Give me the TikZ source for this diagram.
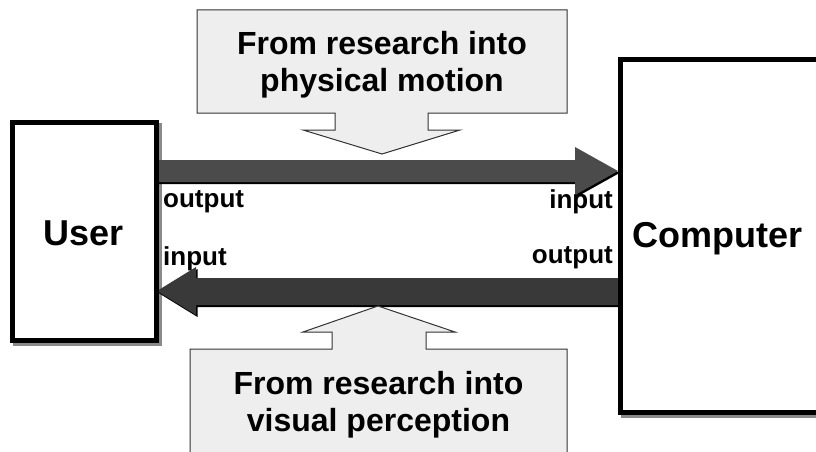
\documentclass[tikz,border=0pt]{standalone}
\usepackage{fontspec}
\setmainfont{Liberation Sans}
\definecolor{calloutfill}{HTML}{EEEEEE}
\definecolor{calloutline}{HTML}{333333}
\definecolor{arrowtop}{HTML}{4B4B4B}
\definecolor{arrowbot}{HTML}{393939}
\definecolor{shadowgray}{HTML}{8A8A8A}
\begin{document}
\begin{tikzpicture}[x=1pt,y=-1pt,
  mainbox/.style={draw=black,line width=5pt,fill=white,inner sep=0pt},
  boxshadow/.style={draw=shadowgray,line width=5pt},
  callout/.style={fill=calloutfill,draw=calloutline,line width=1pt,line join=miter},
  bigtext/.style={font=\bfseries\fontsize{36}{40}\selectfont,inner sep=0pt},
  calltext/.style={font=\bfseries\fontsize{32}{37}\selectfont,align=center,inner sep=0pt},
  lbl/.style={font=\bfseries\fontsize{26}{28}\selectfont,inner sep=0pt},
  arrowshadow/.style={fill=black}]
\clip (0,0) rectangle (816,452);
\fill[white] (0,0) rectangle (816,452);

% main boxes with shadows
\draw[boxshadow] (15,125) rectangle (159,343);
\draw[mainbox] (12,122) rectangle (156,340);
\coordinate (userE) at (156,231);
\draw[boxshadow] (623,63) rectangle (840,415);
\draw[mainbox] (620,60) rectangle (840,412);
\coordinate (compW) at (620,231);

\node[bigtext,anchor=base] (user) at (84,245) {User};
\node[bigtext,anchor=base west] (computer) at (632,247) {Computer};

% top block arrow (user -> computer)
\fill[arrowshadow,shift={(1.5,2)}] (156,160) -- (575,160) -- (575,147) -- (618,171) -- (575,195) -- (575,182) -- (156,182) -- cycle;
\fill[arrowtop] (156,160) -- (575,160) -- (575,147) -- (618,171) -- (575,195) -- (575,182) -- (156,182) -- cycle;

% bottom block arrow (computer -> user)
\fill[arrowshadow,shift={(1.5,2)}] (618,278) -- (196,278) -- (196,267) -- (157,291) -- (196,315) -- (196,305) -- (618,305) -- cycle;
\fill[arrowbot] (618,278) -- (196,278) -- (196,267) -- (157,291) -- (196,315) -- (196,305) -- (618,305) -- cycle;

% callouts
\draw[callout] (197,10) -- (567,10) -- (567,113) -- (428,113) -- (428,130) -- (460,130) -- (382,154) -- (303,130) -- (335,130) -- (335,113) -- (197,113) -- cycle;
\node[calltext] (motion) at (382,65) {From research into\\physical motion};

\draw[callout] (190,470) -- (190,349) -- (332,349) -- (332,332) -- (303,332) -- (378,306) -- (455,332) -- (426,332) -- (426,349) -- (567,349) -- (567,470) -- cycle;
\node[calltext] (perception) at (378.5,405) {From research into\\visual perception};

% labels
\node[lbl,anchor=base west] (outL) at (163,207) {output};
\node[lbl,anchor=base east] (inR) at (613,208) {input};
\node[lbl,anchor=base west] (inL) at (163,265) {input};
\node[lbl,anchor=base east] (outR) at (613,263) {output};

% redraw box edges over arrow ends
\draw[black,line width=5pt] (156,122) -- (156,340);
\draw[black,line width=5pt] (620,60) -- (620,412);
\end{tikzpicture}
\end{document}
